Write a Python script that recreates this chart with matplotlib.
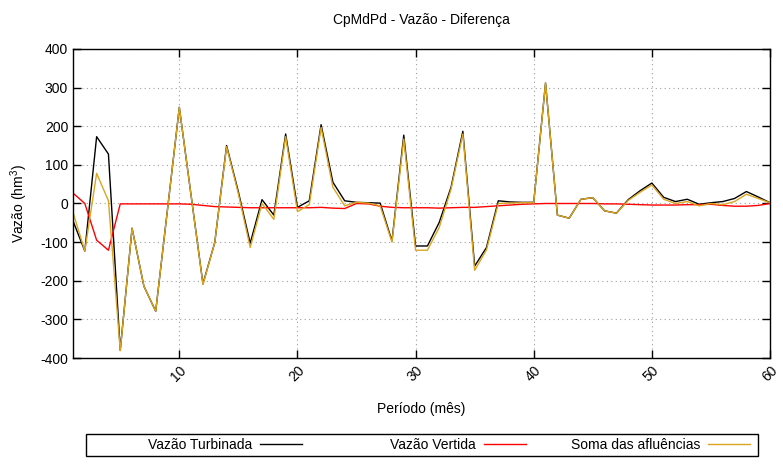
import matplotlib
matplotlib.use("Agg")
import matplotlib.pyplot as plt
from matplotlib.patches import Rectangle

plt.rcParams['font.family'] = ['Liberation Sans', 'DejaVu Sans']
plt.rcParams['mathtext.default'] = 'regular'
plt.rcParams['axes.unicode_minus'] = False

periodo = list(range(1, 61))
vazao_turbinada = [-45, -123, 173, 128, -380, -64, -214, -279, -15, 249,
                   20, -208, -101, 150, 30, -103, 10, -30, 180, -10,
                   7, 204, 55, 7, 3, 2, 1, -97, 177, -110,
                   -110, -49, 42, 187, -162, -114, 7, 4, 3, 3,
                   312, -30, -38, 11, 15, -19, -25, 10, 33, 53,
                   16, 5, 11, -2, 2, 5, 13, 31, 17, 2]
vazao_vertida = [27, 0, -95, -121, -1, -1, -1, -1, -1, -1,
                 -2, -5, -8, -9, -10, -11, -11, -11, -11, -11,
                 -11, -10, -12, -13, 0, -1, -7, -10, -11, -11,
                 -11, -12, -11, -10, -10, -8, -6, -4, -2, -1,
                 0, 0, 0, 0, 0, -1, -1, -2, -3, -4,
                 -4, -4, -3, -3, -2, -5, -7, -7, -5, 0]
soma_afluencias = [-23, -123, 78, 7, -381, -64, -214, -279, -15, 249,
                   20, -210, -101, 147, 25, -114, 0, -41, 173, -21,
                   -3, 197, 42, -6, 3, 1, -6, -100, 167, -121,
                   -121, -62, 37, 180, -173, -120, 0, 1, 2, 2,
                   312, -30, -38, 11, 15, -19, -25, 8, 29, 48,
                   11, 0, 5, -6, 0, -3, 5, 24, 13, 2]

xticks = [10, 20, 30, 40, 50, 60]
yticks = [-400, -300, -200, -100, 0, 100, 200, 300, 400]

W, H = 783, 465
fig = plt.figure(figsize=(W/100, H/100), dpi=100)
ax = fig.add_axes([73/W, 1-358/H, (770-73)/W, (358-49)/H])

l1, = ax.plot(periodo, vazao_turbinada, color='black', lw=1.0, label='Vazão Turbinada')
l2, = ax.plot(periodo, vazao_vertida, color='#ff0000', lw=1.0, label='Vazão Vertida')
l3, = ax.plot(periodo, soma_afluencias, color='#dba520', lw=1.0, label='Soma das afluências')

ax.set_xlim(1, 60)
ax.set_ylim(-400, 400)
ax.set_xticks(xticks)
ax.set_yticks(yticks)
ax.set_xticklabels([str(t) for t in xticks], rotation=45, ha='right',
                   rotation_mode='anchor', fontsize=10)
ax.tick_params(axis='y', labelsize=10)
ax.tick_params(direction='in', top=True, right=True, length=6, width=1)
ax.grid(True, linestyle=(0, (1, 3)), color='#a0a0a0', lw=0.8)
for s in ax.spines.values():
    s.set_linewidth(1.0)

ax.set_title('CpMdPd - Vazão - Diferença', fontsize=10, pad=18)
ax.set_xlabel('Período (mês)', fontsize=10, labelpad=13)
ax.set_ylabel('Vazão (hm$^3$)', fontsize=10, labelpad=7)

# legend frame (gnuplot style box below the plot)
fig.patches.append(Rectangle((86/W, 1-456/H), (758-86)/W, 22/H,
                             transform=fig.transFigure, fill=False,
                             edgecolor='black', lw=1.0))
for line, xend in zip([l1, l2, l3], [302, 526, 750]):
    fig.legend(handles=[line], loc='center right',
               bbox_to_anchor=(xend/W, 1-445/H), frameon=False,
               markerfirst=False, fontsize=10, handlelength=3.0,
               handletextpad=0.6, borderpad=0, borderaxespad=0)

fig.savefig('out.png', dpi=100)
